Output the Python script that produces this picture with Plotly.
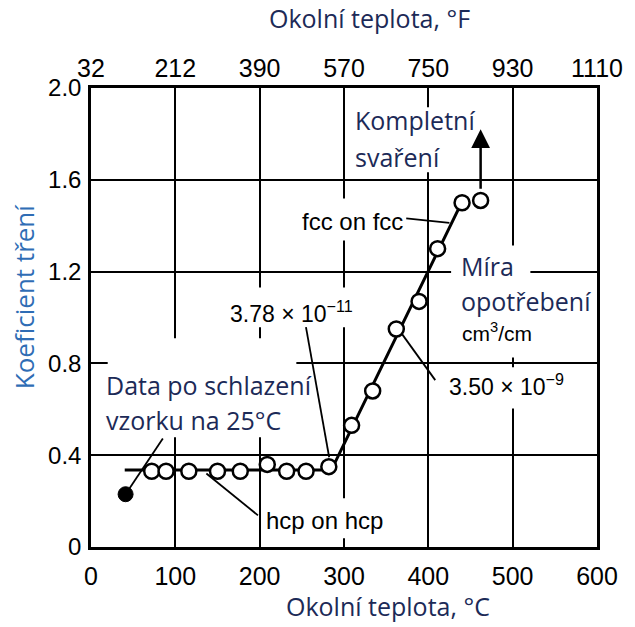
import plotly.graph_objects as go

# Friction coefficient vs. ambient temperature (°C)
cooled_t = [41]
cooled_mu = [0.23]

hcp_t = [72, 89, 116, 150, 177, 209, 232, 255, 282]
hcp_mu = [0.33, 0.33, 0.33, 0.33, 0.33, 0.36, 0.33, 0.33, 0.35]

fcc_t = [309, 334, 362, 389, 411, 440, 462]
fcc_mu = [0.53, 0.68, 0.95, 1.07, 1.30, 1.50, 1.51]

# trend line: hcp plateau, then steep fcc rise
trend_t = [40, 285, 438]
trend_mu = [0.335, 0.335, 1.49]

x_ticks_c = [0, 100, 200, 300, 400, 500, 600]
x_ticks_f = ["32", "212", "390", "570", "750", "930", "1110"]
y_ticks = [0, 0.4, 0.8, 1.2, 1.6, 2.0]
y_tick_text = ["0", "0.4", "0.8", "1.2", "1.6", "2.0"]

NAVY = "#1c2a57"
BLUE = "#2f6db5"
SANS = "Open Sans, Lato, sans-serif"
HELV = "Liberation Sans, Arial, sans-serif"

fig = go.Figure()

fig.add_trace(go.Scatter(x=trend_t, y=trend_mu, mode="lines",
                         line=dict(color="black", width=3), hoverinfo="skip"))
fig.add_trace(go.Scatter(x=hcp_t + fcc_t, y=hcp_mu + fcc_mu, mode="markers",
                         marker=dict(symbol="circle", size=15, color="white",
                                     line=dict(color="black", width=2.5))))
fig.add_trace(go.Scatter(x=cooled_t, y=cooled_mu, mode="markers",
                         marker=dict(symbol="circle", size=15, color="black",
                                     line=dict(color="black", width=1))))
# carrier for the °F axis on top
fig.add_trace(go.Scatter(x=[0, 600], y=[0, 0], xaxis="x2", mode="markers",
                         marker=dict(opacity=0), hoverinfo="skip"))

# white patches that break the grid behind the labels
masks = [
    (19.8, 243.5, 0.478, 0.91),
    (160.6, 331.6, 0.958, 1.131),
    (234.6, 372.0, 1.336, 1.519),
    (309.0, 458.0, 1.633, 1.916),
    (427.0, 521.0, 0.826, 1.314),
    (418.0, 584.0, 0.604, 0.783),
    (203.6, 357.0, 0.038, 0.212),
]
shapes = []
for x0, x1, y0, y1 in masks:
    shapes.append(dict(type="rect", xref="x", yref="y", x0=x0, x1=x1, y0=y0, y1=y1,
                       fillcolor="white", line=dict(width=0), layer="between"))

# leader lines from labels to the data
leaders = [
    (42.8, 0.24, 85.2, 0.473),
    (136.8, 0.32, 198.0, 0.138),
    (373.8, 1.432, 425.0, 1.412),
    (254.9, 0.958, 282.4, 0.391),
    (368.0, 0.932, 408.2, 0.727),
]
for x0, y0, x1, y1 in leaders:
    shapes.append(dict(type="line", xref="x", yref="y", x0=x0, y0=y0, x1=x1, y1=y1,
                       line=dict(color="black", width=1.8), layer="above"))

annotations = []


def label(text, x, y, size, color, family, xanchor="left"):
    annotations.append(dict(text=text, x=x, y=y, xref="x", yref="y",
                            xanchor=xanchor, yanchor="middle", showarrow=False,
                            font=dict(size=size, color=color, family=family)))


label("Kompletní", 311, 1.86, 25, NAVY, SANS)
label("svaření", 311, 1.70, 25, NAVY, SANS)
label("fcc on fcc", 372, 1.417, 24, "black", HELV, xanchor="right")
label("Míra", 436, 1.225, 25, NAVY, SANS)
label("opotřebení", 436, 1.072, 25, NAVY, SANS)
label("cm<sup>3</sup>/cm", 437, 0.935, 21, "black", HELV)
label("3.78 × 10<sup>−11</sup>", 162, 1.024, 23, "black", HELV)
label("3.50 × 10<sup>−9</sup>", 422, 0.705, 23, "black", HELV)
label("Data po schlazení", 15.5, 0.705, 25, NAVY, SANS)
label("vzorku na 25°C", 15.5, 0.552, 25, NAVY, SANS)
label("hcp on hcp", 204.6, 0.116, 24, "black", HELV)

# arrow: complete welding
annotations.append(dict(x=462, y=1.82, ax=462, ay=1.555, xref="x", yref="y",
                        axref="x", ayref="y", text="", showarrow=True,
                        arrowhead=2, arrowsize=1.5, arrowwidth=2.5,
                        arrowcolor="black"))

# axis titles
annotations.append(dict(text="Okolní teplota, °F", x=0.348, y=1.1525,
                        xref="paper", yref="paper", showarrow=False,
                        xanchor="left", yanchor="middle",
                        font=dict(size=25, color=NAVY, family=SANS)))
annotations.append(dict(text="Okolní teplota, °C", x=0.3805, y=-0.1285,
                        xref="paper", yref="paper", showarrow=False,
                        xanchor="left", yanchor="middle",
                        font=dict(size=25, color=NAVY, family=SANS)))
annotations.append(dict(text="Koeficient tření", x=-0.132, y=0.5447,
                        xref="paper", yref="paper", showarrow=False,
                        xanchor="center", yanchor="middle", textangle=-90,
                        font=dict(size=26, color=BLUE, family=SANS)))

axis_common = dict(showline=True, linecolor="black", linewidth=2.5, mirror=True,
                   showgrid=True, gridcolor="black", gridwidth=2, zeroline=False,
                   ticks="")

fig.update_layout(
    width=635, height=627,
    margin=dict(l=91, r=21, t=88, b=80),
    paper_bgcolor="white", plot_bgcolor="white",
    showlegend=False,
    xaxis=dict(range=[0, 600], tickvals=x_ticks_c,
               ticktext=[str(v) for v in x_ticks_c],
               tickfont=dict(size=25, color="black", family=HELV),
               ticklabelstandoff=5, **axis_common),
    xaxis2=dict(range=[0, 600], overlaying="x", side="top", tickvals=x_ticks_c,
                ticktext=x_ticks_f, showgrid=False, showline=False, zeroline=False,
                ticks="", tickfont=dict(size=25, color="black", family=HELV),
                ticklabelstandoff=5),
    yaxis=dict(range=[0, 2.0], tickvals=y_ticks, ticktext=y_tick_text,
               tickfont=dict(size=24, color="black", family=HELV),
               ticklabelstandoff=2, **axis_common),
    shapes=shapes,
    annotations=annotations,
)

fig.write_html("out.html")
